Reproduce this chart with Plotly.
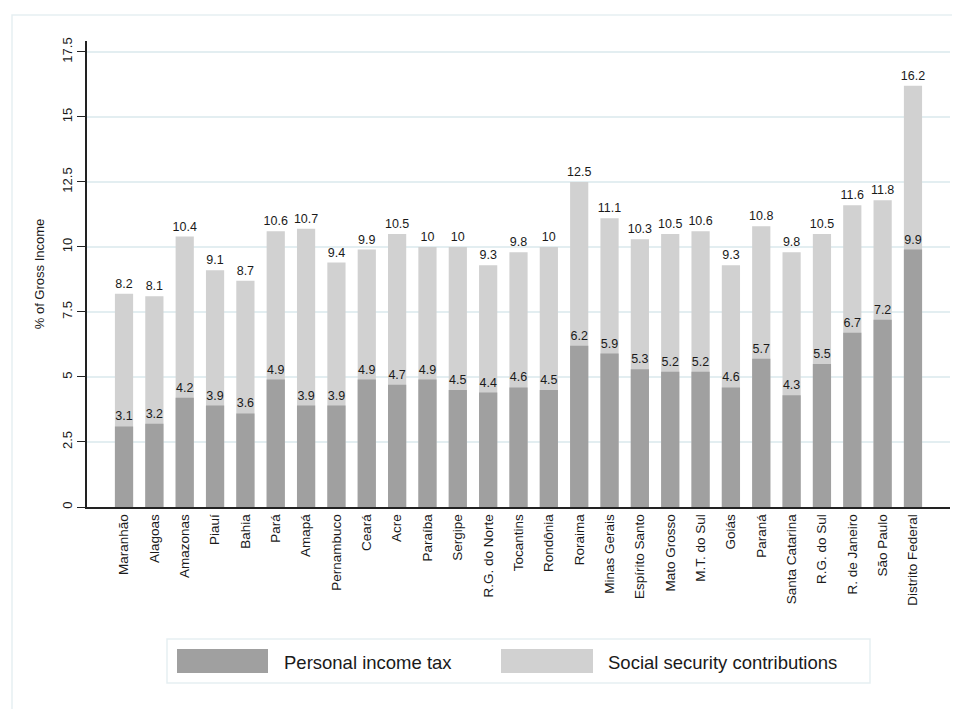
import plotly.graph_objects as go

states = ["Maranhão", "Alagoas", "Amazonas", "Piauí", "Bahia", "Pará", "Amapá",
          "Pernambuco", "Ceará", "Acre", "Paraíba", "Sergipe", "R.G. do Norte",
          "Tocantins", "Rondônia", "Roraima", "Minas Gerais", "Espírito Santo",
          "Mato Grosso", "M.T. do Sul", "Goiás", "Paraná", "Santa Catarina",
          "R.G. do Sul", "R. de Janeiro", "São Paulo", "Distrito Federal"]
total = [8.2, 8.1, 10.4, 9.1, 8.7, 10.6, 10.7, 9.4, 9.9, 10.5, 10, 10, 9.3, 9.8,
         10, 12.5, 11.1, 10.3, 10.5, 10.6, 9.3, 10.8, 9.8, 10.5, 11.6, 11.8, 16.2]
pit = [3.1, 3.2, 4.2, 3.9, 3.6, 4.9, 3.9, 3.9, 4.9, 4.7, 4.9, 4.5, 4.4, 4.6,
       4.5, 6.2, 5.9, 5.3, 5.2, 5.2, 4.6, 5.7, 4.3, 5.5, 6.7, 7.2, 9.9]
ytick_vals = [0, 2.5, 5, 7.5, 10, 12.5, 15, 17.5]
ytick_text = ["0", "2.5", "5", "7.5", "10", "12.5", "15", "17.5"]
legend_names = ["Personal income tax", "Social security contributions"]

DARK = "#a0a0a0"
LIGHT = "#d1d1d1"
FONT = "Liberation Sans, Arial, Helvetica, sans-serif"
TXT = "#1a1a1a"

fig = go.Figure()
fig.add_trace(go.Bar(x=states, y=total, name=legend_names[1], marker_color=LIGHT,
                     marker_line_width=0, width=0.6, text=total, texttemplate="%{y}",
                     textposition="outside", cliponaxis=False, constraintext="none",
                     textangle=0,
                     textfont=dict(size=12.5, color=TXT, family=FONT)))
fig.add_trace(go.Bar(x=states, y=pit, name=legend_names[0], marker_color=DARK,
                     marker_line_width=0, width=0.6, text=pit, texttemplate="%{y}",
                     textposition="outside", cliponaxis=False, constraintext="none",
                     textangle=0,
                     textfont=dict(size=12.5, color=TXT, family=FONT)))

# page body has an 8px default margin: work in window pixels, then offset
OFF = 8
W, H = 960 - OFF, 709 - OFF
L, R, T, B = 87 - OFF, 10, 41 - OFF, 202
pw, ph = W - L - R, H - T - B

def px(x):
    return (x - OFF - L) / pw

def py(y):
    return (H - B - (y - OFF)) / ph

shapes = [
    # outer frame
    dict(type="rect", xref="paper", yref="paper", x0=px(12), x1=px(975), y0=py(725), y1=py(15),
         line=dict(color="#e6eff2", width=1.5), fillcolor="rgba(0,0,0,0)", layer="below"),
    # legend box
    dict(type="rect", xref="paper", yref="paper", x0=px(167), x1=px(870), y0=py(683), y1=py(639),
         line=dict(color="#e6eff2", width=1.5), fillcolor="white"),
    dict(type="rect", xref="paper", yref="paper", x0=px(177), x1=px(268), y0=py(673), y1=py(649),
         line=dict(width=0), fillcolor=DARK),
    dict(type="rect", xref="paper", yref="paper", x0=px(501), x1=px(593), y0=py(673), y1=py(649),
         line=dict(width=0), fillcolor=LIGHT),
]
annotations = [
    dict(xref="paper", yref="paper", x=px(282), y=py(662), text=legend_names[0], showarrow=False,
         xanchor="left", yanchor="middle", font=dict(size=18.5, color=TXT, family=FONT)),
    dict(xref="paper", yref="paper", x=px(606), y=py(662), text=legend_names[1], showarrow=False,
         xanchor="left", yanchor="middle", font=dict(size=18.5, color=TXT, family=FONT)),
]

fig.update_layout(
    width=W, height=H,
    margin=dict(l=L, r=R, t=T, b=B),
    barmode="overlay",
    plot_bgcolor="white", paper_bgcolor="white",
    showlegend=False,
    font=dict(family=FONT, color=TXT),
    shapes=shapes, annotations=annotations,
    xaxis=dict(range=[-1.22, 27.22], showline=True, linecolor="#222", linewidth=1.5,
               tickangle=-90, ticks="", tickfont=dict(size=13.5, family=FONT, color=TXT),
               showgrid=False, fixedrange=True),
    yaxis=dict(range=[0, 17.92], tickvals=ytick_vals, ticktext=ytick_text,
               showline=True, linecolor="#222", linewidth=1.5,
               ticks="outside", ticklen=8, tickcolor="#222", tickangle=-90,
               tickfont=dict(size=13, family=FONT, color=TXT),
               showgrid=True, gridcolor="#e3eef1", gridwidth=1.5, zeroline=False,
               title=dict(text="% of Gross Income", font=dict(size=13, family=FONT, color=TXT),
                          standoff=12)),
)

fig.write_html("out.html")
